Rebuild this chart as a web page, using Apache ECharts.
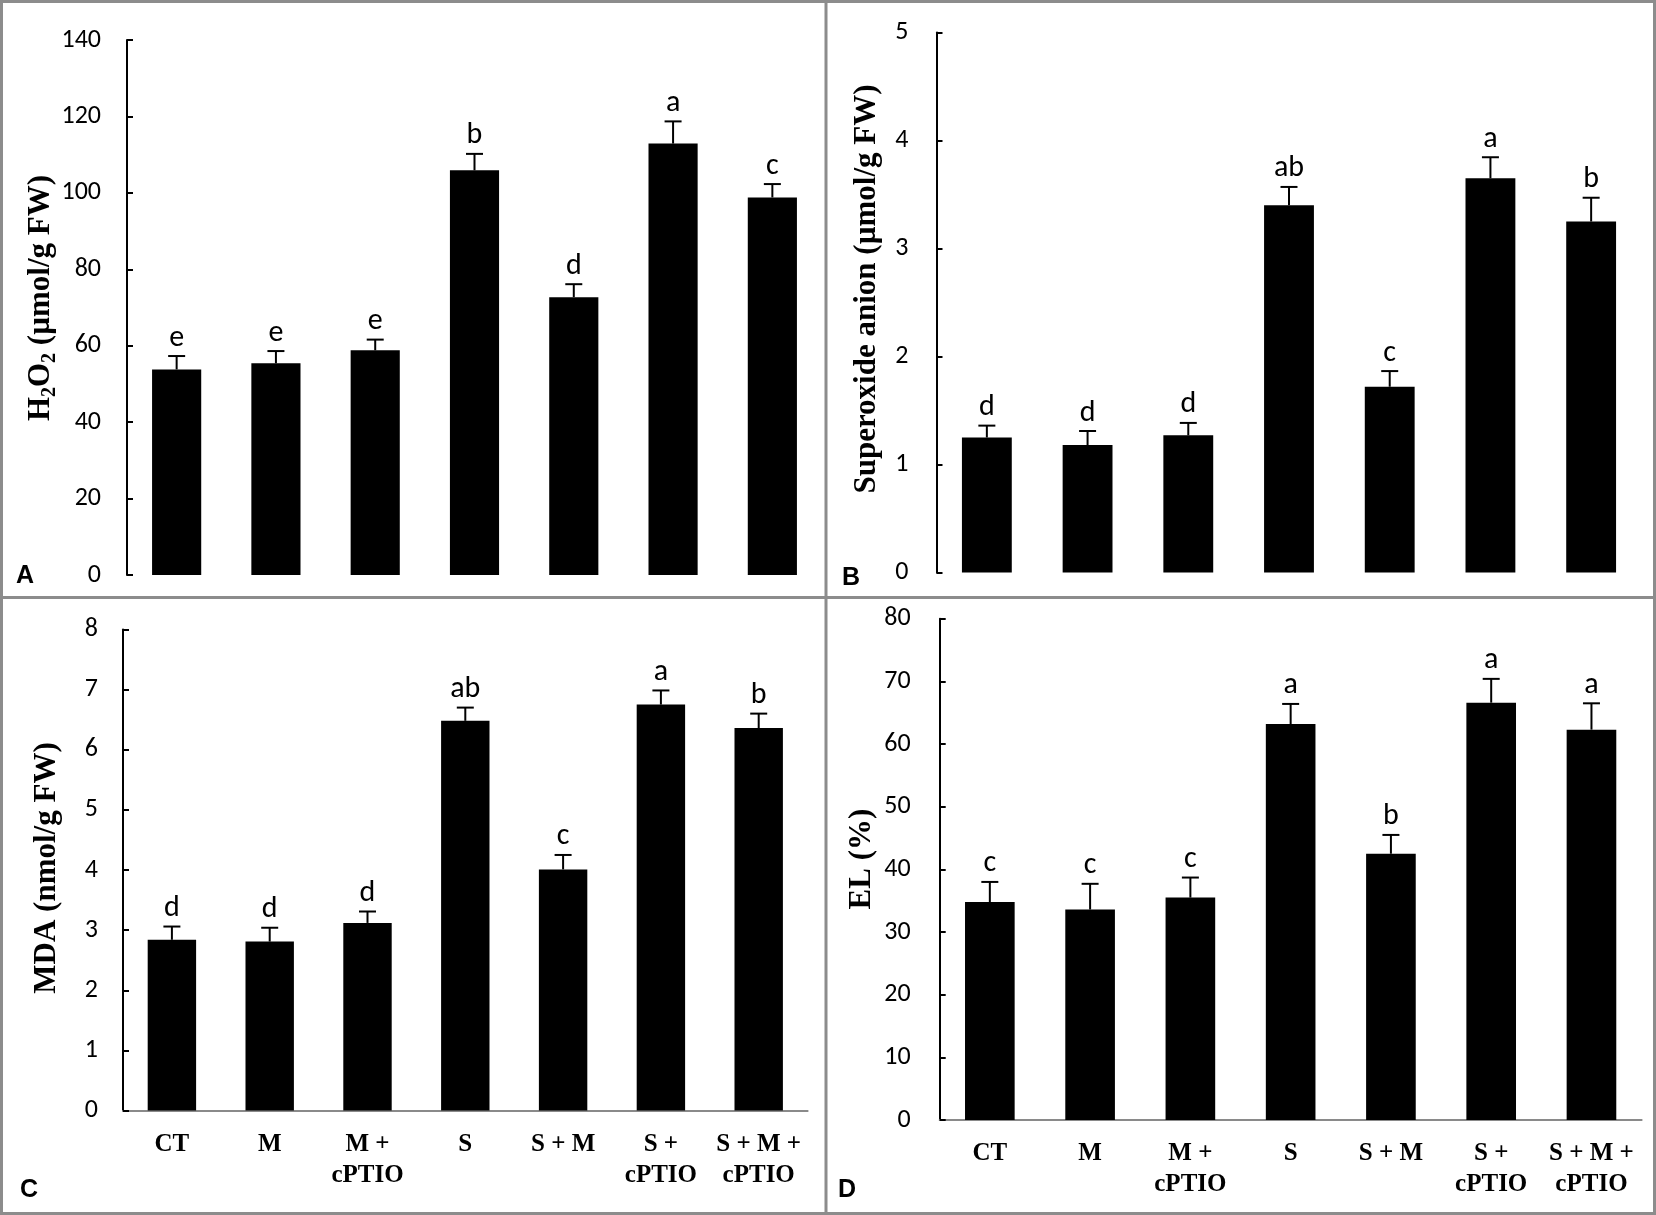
<!DOCTYPE html>
<html>
<head>
<meta charset="utf-8">
<script src="https://cdn.jsdelivr.net/npm/echarts@6/dist/echarts.min.js"></script>
<style>
html,body{margin:0;padding:0;background:#fff;}
#chart{width:1656px;height:1215px;}
</style>
</head>
<body>
<div id="chart"></div>
<script>
// ---------- data ----------
const categories = ['CT', 'M', 'M +\ncPTIO', 'S', 'S + M', 'S +\ncPTIO', 'S + M +\ncPTIO'];

const h2o2Values = [53.8, 55.4, 58.8, 105.9, 72.7, 112.9, 98.8];
const h2o2Errors = [3.5, 3.2, 2.8, 4.3, 3.4, 5.8, 3.5];
const h2o2Letters = ['e', 'e', 'e', 'b', 'd', 'a', 'c'];
const h2o2Ticks = [0, 140, 20];

const superoxideValues = [1.25, 1.18, 1.27, 3.40, 1.72, 3.65, 3.25];
const superoxideErrors = [0.11, 0.13, 0.115, 0.17, 0.145, 0.195, 0.22];
const superoxideLetters = ['d', 'd', 'd', 'ab', 'c', 'a', 'b'];
const superoxideTicks = [0, 5, 1];

const mdaValues = [2.84, 2.81, 3.12, 6.48, 4.01, 6.75, 6.36];
const mdaErrors = [0.22, 0.23, 0.19, 0.22, 0.24, 0.235, 0.24];
const mdaLetters = ['d', 'd', 'd', 'ab', 'c', 'a', 'b'];
const mdaTicks = [0, 8, 1];

const elValues = [34.8, 33.6, 35.5, 63.2, 42.5, 66.6, 62.3];
const elErrors = [3.2, 4.1, 3.2, 3.2, 3.0, 3.8, 4.2];
const elLetters = ['c', 'c', 'c', 'a', 'b', 'a', 'a'];
const elTicks = [0, 80, 10];

// ---------- layout / style ----------
const TICK_FONT = 'Carlito, Lato, sans-serif';
const SERIF = '"Liberation Serif", "Times New Roman", serif';
const panels = [
  {values: h2o2Values, errors: h2o2Errors, letters: h2o2Letters, ticks: h2o2Ticks,
   grid: {left: 127, top: 40, width: 695, height: 535}, labelMargin: 26, showX: false},
  {values: superoxideValues, errors: superoxideErrors, letters: superoxideLetters, ticks: superoxideTicks,
   grid: {left: 936.5, top: 32.5, width: 705, height: 540}, labelMargin: 28, showX: false},
  {values: mdaValues, errors: mdaErrors, letters: mdaLetters, ticks: mdaTicks,
   grid: {left: 123, top: 629.4, width: 684.6, height: 481.2}, labelMargin: 25, showX: true},
  {values: elValues, errors: elErrors, letters: elLetters, ticks: elTicks,
   grid: {left: 939.7, top: 618.7, width: 701.9, height: 501.4}, labelMargin: 29, showX: true}
];

const grids = [], xAxes = [], yAxes = [], series = [];
panels.forEach((p, gi) => {
  grids.push(Object.assign({containLabel: false}, p.grid));
  xAxes.push({
    type: 'category', gridIndex: gi, data: categories,
    axisLine: {show: p.showX, lineStyle: {color: '#8a8a8a', width: 2}},
    axisTick: {show: false},
    axisLabel: {show: p.showX, interval: 0, color: '#000', fontFamily: SERIF, fontWeight: 'bold',
                fontSize: 25, lineHeight: 31, margin: 18}
  });
  yAxes.push({
    type: 'value', gridIndex: gi, min: p.ticks[0], max: p.ticks[1], interval: p.ticks[2],
    axisLine: {show: true, lineStyle: {color: '#000', width: 2}},
    axisTick: {show: true, inside: true, length: 6, lineStyle: {color: '#000', width: 2}},
    splitLine: {show: false},
    axisLabel: {color: '#000', fontFamily: TICK_FONT, fontSize: 26, margin: p.labelMargin}
  });
  series.push({
    type: 'bar', xAxisIndex: gi, yAxisIndex: gi, data: p.values,
    barWidth: '49.5%', itemStyle: {color: '#000'}, silent: true, animation: false
  });
  const letters = p.letters;
  series.push({
    type: 'custom', xAxisIndex: gi, yAxisIndex: gi, animation: false, silent: true, z: 5,
    clip: false,
    data: p.values.map((v, i) => [i, v, v + p.errors[i]]),
    encode: {x: 0, y: [1, 2]},
    renderItem: function (params, api) {
      const x = api.value(0), v = api.value(1), e = api.value(2);
      const p0 = api.coord([x, v]);
      const p1 = api.coord([x, e]);
      const hw = 8.5;
      return {
        type: 'group',
        children: [
          {type: 'line', shape: {x1: p0[0], y1: p0[1], x2: p1[0], y2: p1[1]},
           style: {stroke: '#000', lineWidth: 2}},
          {type: 'line', shape: {x1: p1[0] - hw, y1: p1[1], x2: p1[0] + hw, y2: p1[1]},
           style: {stroke: '#000', lineWidth: 2}},
          {type: 'text', x: p1[0], y: p1[1] - 3,
           style: {text: letters[params.dataIndex], fill: '#000', fontFamily: TICK_FONT,
                   fontSize: 30, textAlign: 'center', textVerticalAlign: 'bottom'}}
        ]
      };
    }
  });
});

const titleRich = {
  a: {fontFamily: SERIF, fontWeight: 'bold', fontSize: 31, lineHeight: 37, fill: '#000'},
  s: {fontFamily: SERIF, fontWeight: 'bold', fontSize: 20, lineHeight: 20, verticalAlign: 'bottom', fill: '#000'}
};
function vTitle(text, x, y) {
  return {type: 'text', x: x, y: y, rotation: Math.PI / 2, silent: true,
          style: {text: text, rich: titleRich, textAlign: 'center', textVerticalAlign: 'middle', fill: '#000'}};
}
function panelLabel(t, x, y) {
  return {type: 'text', x: x, y: y, silent: true,
          style: {text: t, fill: '#000', fontFamily: '"Liberation Sans", Arial, sans-serif',
                  fontWeight: 'bold', fontSize: 25, textVerticalAlign: 'middle'}};
}
const frameColor = '#8c8c8c';
const graphic = [
  {type: 'rect', shape: {x: 1.5, y: 1.5, width: 1653, height: 1212}, silent: true,
   style: {fill: 'none', stroke: frameColor, lineWidth: 3}},
  {type: 'line', shape: {x1: 826, y1: 0, x2: 826, y2: 1215}, silent: true,
   style: {stroke: frameColor, lineWidth: 3}},
  {type: 'line', shape: {x1: 0, y1: 597.5, x2: 1656, y2: 597.5}, silent: true,
   style: {stroke: frameColor, lineWidth: 3}},
  vTitle('{a|H}{s|2}{a|O}{s|2}{a| (µmol/g FW)}', 41, 298),
  vTitle('{a|Superoxide anion (µmol/g FW)}', 867, 289),
  vTitle('{a|MDA (nmol/g FW)}', 47, 868),
  vTitle('{a|EL (%)}', 862, 859),
  panelLabel('A', 16, 576),
  panelLabel('B', 842, 578),
  panelLabel('C', 20, 1190),
  panelLabel('D', 838, 1190)
];

const chart = echarts.init(document.getElementById('chart'), null, {renderer: 'canvas'});
chart.setOption({
  animation: false,
  backgroundColor: '#fff',
  grid: grids, xAxis: xAxes, yAxis: yAxes, series: series, graphic: graphic
});
</script>
</body>
</html>
